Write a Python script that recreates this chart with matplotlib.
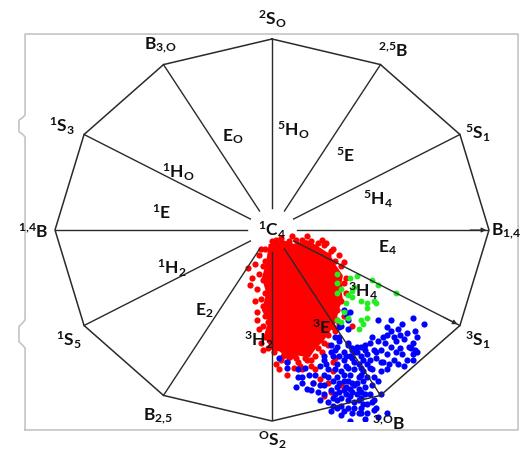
import numpy as np
import matplotlib
matplotlib.use("Agg")
import matplotlib.pyplot as plt
from matplotlib.patches import Polygon

plt.rcParams['font.family'] = ['Lato', 'DejaVu Sans']
plt.rcParams['mathtext.fontset'] = 'custom'
plt.rcParams['mathtext.rm'] = 'Lato'
plt.rcParams['mathtext.it'] = 'Lato'
plt.rcParams['mathtext.bf'] = 'Lato:bold'
plt.rcParams['mathtext.default'] = 'regular'

# conformer names at the 12 corners, clockwise from the top
vertex_labels = [r'$^{2}$S$_{O}$', r'$^{2{,}5}$B', r'$^{5}$S$_{1}$', r'B$_{1{,}4}$',
                 r'$^{3}$S$_{1}$', r'$^{3{,}O}$B', r'$^{O}$S$_{2}$', r'B$_{2{,}5}$',
                 r'$^{1}$S$_{5}$', r'$^{1{,}4}$B', r'$^{1}$S$_{3}$', r'B$_{3{,}O}$']
sector_labels = [r'$^{5}$H$_{O}$', r'$^{5}$E', r'$^{5}$H$_{4}$', r'E$_{4}$',
                 r'$^{3}$H$_{4}$', r'$^{3}$E', r'$^{3}$H$_{2}$', r'E$_{2}$',
                 r'$^{1}$H$_{2}$', r'$^{1}$E', r'$^{1}$H$_{O}$', r'E$_{O}$']
center_label = r'$^{1}$C$_{4}$'

# projected puckering coordinates (ring radius = 1)
red_core = [(-0.01, -0.08), (0.05, -0.06), (0.10, -0.08), (0.16, -0.06), (0.22, -0.10),
            (0.26, -0.13), (0.29, -0.19), (0.32, -0.24), (0.31, -0.30), (0.32, -0.36),
            (0.30, -0.42), (0.29, -0.48), (0.26, -0.53), (0.23, -0.58), (0.20, -0.61),
            (0.17, -0.66), (0.12, -0.65), (0.08, -0.68), (0.04, -0.63), (0.00, -0.62),
            (-0.03, -0.55), (-0.01, -0.48), (-0.04, -0.42), (-0.02, -0.33), (-0.04, -0.25),
            (-0.02, -0.17)]
red_pts = [(-0.06, -0.13), (-0.03, -0.16), (-0.06, -0.23), (-0.04, -0.26), (-0.02, -0.30),
           (-0.05, -0.36), (-0.02, -0.39), (-0.03, -0.45), (-0.02, -0.20), (-0.02, -0.48),
           (-0.08, -0.18), (-0.11, -0.20), (-0.05, -0.59), (-0.02, -0.62), (-0.06, -0.52),
           (-0.08, -0.37), (-0.10, -0.29), (-0.05, -0.10),
           (0.03, -0.09), (0.07, -0.09), (0.12, -0.08), (0.15, -0.10), (0.20, -0.09),
           (0.24, -0.08), (0.26, -0.13), (0.29, -0.16), (0.32, -0.19), (0.30, -0.24),
           (0.34, -0.25), (0.04, -0.04), (0.11, -0.05), (0.18, -0.06), (0.25, -0.07),
           (0.28, -0.10),
           (0.28, -0.31), (0.30, -0.37), (0.28, -0.43), (0.28, -0.51), (0.31, -0.49),
           (0.37, -0.50), (0.31, -0.29), (0.32, -0.37), (0.30, -0.42),
           (0.04, -0.68), (0.07, -0.69), (0.15, -0.67), (0.18, -0.68), (0.14, -0.73),
           (0.20, -0.73), (0.22, -0.78), (0.19, -0.80), (0.28, -0.69), (0.28, -0.74),
           (0.24, -0.87), (0.27, -0.85), (0.32, -0.81), (0.29, -0.67), (0.03, -0.73),
           (0.10, -0.72), (0.26, -0.80), (0.11, -0.67), (0.23, -0.64), (0.26, -0.60),
           (0.18, -0.71), (0.07, -0.76),
           (0.31, -0.13), (0.33, -0.17), (0.33, -0.28), (0.34, -0.33),
           (0.33, -0.45), (0.30, -0.47), (0.29, -0.53), (0.26, -0.55),
           (0.24, -0.59), (0.21, -0.62), (0.20, -0.66), (0.16, -0.68), (0.12, -0.69),
           (0.05, -0.66), (0.01, -0.64), (0.02, -0.70), (0.13, -0.71),
           (-0.03, -0.10), (-0.04, -0.19), (-0.01, -0.24), (-0.03, -0.33),
           (-0.04, -0.40), (-0.04, -0.50), (-0.03, -0.56), (-0.07, -0.43), (-0.09, -0.25),
           (-0.07, -0.31), (-0.04, -0.63), (-0.07, -0.47), (0.00, -0.06), (0.02, -0.05),
           (0.08, -0.06), (0.14, -0.05), (0.21, -0.07), (0.27, -0.11), (0.23, -0.05),
           (0.16, -0.03), (0.09, -0.03)]
green_pts = [(0.36, -0.25), (0.39, -0.24), (0.32, -0.31), (0.30, -0.33), (0.37, -0.35),
             (0.41, -0.37), (0.44, -0.38), (0.44, -0.41), (0.47, -0.37), (0.41, -0.47),
             (0.44, -0.46), (0.40, -0.52), (0.49, -0.29), (0.57, -0.33), (0.35, -0.46),
             (0.32, -0.48), (0.38, -0.30), (0.35, -0.34), (0.48, -0.38), (0.46, -0.26),
             (0.42, -0.49), (0.34, -0.38), (0.33, -0.43), (0.30, -0.23), (0.30, -0.28),
             (0.30, -0.47), (0.37, -0.32)]
blue_pts = [(0.49, -0.47), (0.55, -0.47), (0.60, -0.49), (0.65, -0.46), (0.70, -0.49),
            (0.53, -0.51), (0.55, -0.53), (0.58, -0.52), (0.66, -0.53), (0.53, -0.55),
            (0.59, -0.55), (0.49, -0.58), (0.52, -0.59), (0.57, -0.58), (0.61, -0.57),
            (0.65, -0.59), (0.67, -0.56), (0.45, -0.59), (0.47, -0.63), (0.50, -0.63),
            (0.55, -0.61), (0.59, -0.62), (0.64, -0.62), (0.66, -0.63), (0.53, -0.65),
            (0.57, -0.64), (0.60, -0.65), (0.65, -0.65), (0.67, -0.64), (0.48, -0.67),
            (0.51, -0.69), (0.56, -0.68), (0.58, -0.70), (0.62, -0.68), (0.65, -0.68),
            (0.44, -0.65), (0.42, -0.68), (0.45, -0.72), (0.41, -0.61), (0.35, -0.59),
            (0.37, -0.62), (0.33, -0.64), (0.36, -0.66), (0.39, -0.64), (0.35, -0.52),
            (0.31, -0.56), (0.30, -0.61), (0.36, -0.43), (0.35, -0.47),
            (0.07, -0.69), (0.12, -0.73), (0.15, -0.72), (0.17, -0.76), (0.14, -0.80),
            (0.19, -0.80), (0.22, -0.81), (0.24, -0.76), (0.25, -0.70), (0.24, -0.66),
            (0.27, -0.64), (0.29, -0.63), (0.31, -0.58), (0.35, -0.60), (0.37, -0.63),
            (0.38, -0.64), (0.41, -0.66), (0.37, -0.67), (0.33, -0.68), (0.30, -0.70),
            (0.29, -0.73), (0.32, -0.74), (0.35, -0.72), (0.38, -0.73), (0.41, -0.72),
            (0.45, -0.68), (0.46, -0.73), (0.44, -0.77), (0.40, -0.77), (0.37, -0.80),
            (0.33, -0.79), (0.30, -0.82), (0.27, -0.84), (0.28, -0.88), (0.30, -0.89),
            (0.34, -0.86), (0.37, -0.85), (0.40, -0.83), (0.43, -0.82), (0.46, -0.81),
            (0.45, -0.86), (0.41, -0.88), (0.38, -0.90), (0.35, -0.93), (0.32, -0.92),
            (0.28, -0.92), (0.24, -0.86), (0.41, -0.93), (0.44, -0.91), (0.47, -0.89),
            (0.37, -0.96), (0.41, -0.96), (0.47, -0.94), (0.07, -0.72), (0.03, -0.67),
            (0.11, -0.82), (0.14, -0.77), (0.21, -0.85), (0.49, -0.79), (0.48, -0.64),
            (0.50, -0.69), (0.36, -1.00), (0.44, -0.96), (0.53, -0.96), (0.48, -0.93),
            (0.31, -0.51), (0.29, -0.56), (0.27, -0.60), (0.24, -0.68), (0.34, -0.82),
            (0.38, -0.81), (0.41, -0.85), (0.35, -0.89), (0.31, -0.85), (0.28, -0.79),
            (0.41, -0.76), (0.36, -0.76), (0.40, -0.89), (0.24, -0.81), (0.20, -0.76),
            (0.26, -0.73), (0.34, -0.71), (0.50, -0.74), (0.53, -0.73), (0.43, -0.63),
            (0.33, -0.42), (0.34, -0.44), (0.32, -0.50),
            (0.26, -0.77), (0.30, -0.77), (0.33, -0.76), (0.31, -0.80), (0.35, -0.79),
            (0.39, -0.80), (0.42, -0.79), (0.36, -0.83), (0.33, -0.84), (0.29, -0.86),
            (0.32, -0.88), (0.36, -0.87), (0.39, -0.86), (0.43, -0.86), (0.38, -0.93),
            (0.33, -0.95), (0.30, -0.93), (0.26, -0.90), (0.40, -0.70), (0.38, -0.69),
            (0.34, -0.66), (0.31, -0.66), (0.28, -0.66), (0.42, -0.74), (0.47, -0.77),
            (0.44, -0.70), (0.39, -0.61), (0.43, -0.60), (0.46, -0.56), (0.51, -0.56),
            (0.56, -0.56), (0.62, -0.54), (0.63, -0.61), (0.54, -0.70), (0.61, -0.71),
            (0.22, -0.71), (0.18, -0.84), (0.16, -0.83), (0.12, -0.77), (0.22, -0.89),
            (0.27, -0.95), (0.43, -0.99), (0.49, -0.98), (0.50, -0.86), (0.46, -0.90),
            (0.42, -0.91), (0.40, -0.96), (0.32, -0.97)]

fig = plt.figure(figsize=(5.22, 4.5), dpi=100)
ax = fig.add_axes([55 / 522, 29 / 450, 434 / 522, 382 / 450])
ax.set_xlim(-1, 1)
ax.set_ylim(-1, 1)
ax.axis('off')

# light frame with the two little braces on the left side
fx0, fx1, fy0, fy1 = -1.138, 1.134, -1.047, 1.026
frame_x = [fx0, fx0, fx0 - 0.01, fx0 - 0.028, fx0 - 0.028, fx0 - 0.01, fx0,
           fx0, fx0 - 0.01, fx0 - 0.028, fx0 - 0.028, fx0 - 0.01, fx0, fx0, fx1, fx1, fx0]
frame_y = [fy0, -0.618, -0.605, -0.585, -0.505, -0.485, -0.471,
           0.487, 0.50, 0.515, 0.575, 0.59, 0.602, fy1, fy1, fy0, fy0]
ax.plot(frame_x, frame_y, color='#c4c4c4', lw=1.2, clip_on=False, zorder=1)

ang = np.radians(np.arange(12) * 30)
vx, vy = np.sin(ang), np.cos(ang)

# data
ax.add_patch(Polygon(red_core, closed=True, facecolor='#ff0000', edgecolor='#ff0000',
                     lw=2, zorder=2))
r = np.array(red_pts)
ax.scatter(r[:, 0], r[:, 1], s=20, color='#ff0000', linewidths=0, zorder=2)
b = np.array(blue_pts)
ax.scatter(b[:, 0], b[:, 1], s=20, color='#0000ff', linewidths=0, zorder=3)
g = np.array(green_pts)
ax.scatter(g[:, 0], g[:, 1], s=18, color='#22ee22', linewidths=0, zorder=4)

# dodecagon and spokes
ax.plot(np.append(vx, vx[0]), np.append(vy, vy[0]), color='#2a2a2a', lw=1.1,
        clip_on=False, zorder=5)
r0 = 0.115
for k in range(12):
    ax.plot([r0 * vx[k], vx[k]], [r0 * vy[k], vy[k]], color='#2a2a2a', lw=1.0, zorder=5)
for k in (3, 4):
    ax.annotate('', xy=(vx[k], vy[k]), xytext=(0.9 * vx[k], 0.9 * vy[k]),
                arrowprops=dict(arrowstyle='-|>', color='#2a2a2a', lw=0.8,
                                mutation_scale=7), zorder=5)

# labels
label_off = [(0, 14), (9, 10), (13, 1), (12, -1), (13, -11), (6, -20),
             (0, -14), (-4, -15), (-11, -11), (-16, -1), (-16, 6), (-2, 14)]
for k in range(12):
    ax.annotate(vertex_labels[k], xy=(vx[k], vy[k]), xytext=label_off[k],
                textcoords='offset points', ha='center', va='center',
                fontsize=12.5, fontweight='bold', color='#111111',
                annotation_clip=False, zorder=7)

sector_pos = [(0.10, 0.52), (0.34, 0.39), (0.49, 0.16), (0.53, -0.09),
              (0.42, -0.32), (0.23, -0.51), (-0.06, -0.58), (-0.31, -0.42),
              (-0.46, -0.20), (-0.51, 0.09), (-0.43, 0.30), (-0.18, 0.49)]
for lab, (px, py) in zip(sector_labels, sector_pos):
    ax.text(px, py, lab, ha='center', va='center', fontsize=12.5, fontweight='bold',
            color='#111111', zorder=7)
ax.text(0, 0, center_label, ha='center', va='center', fontsize=12.5, fontweight='bold',
        color='#111111', zorder=7)

fig.savefig('out.png', dpi=100)
